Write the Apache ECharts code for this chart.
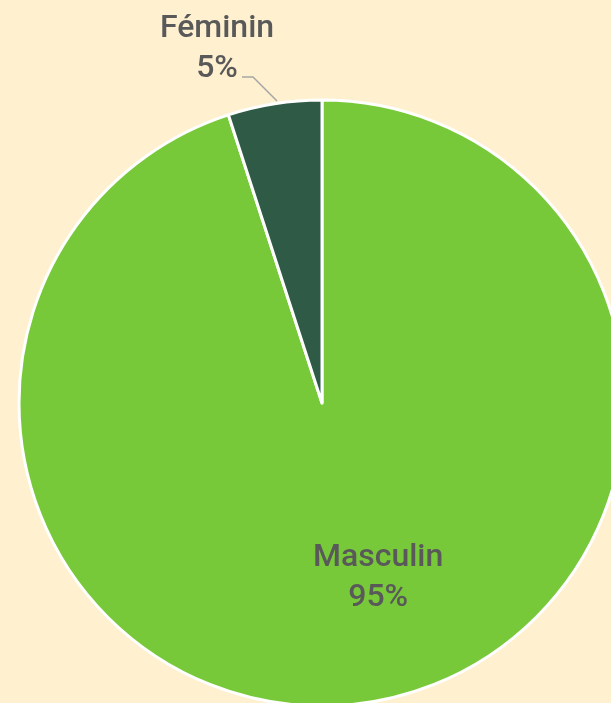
<!DOCTYPE html>
<html><head><meta charset="utf-8">
<script src="https://cdn.jsdelivr.net/npm/echarts@6/dist/echarts.min.js"></script>
<style>html,body{margin:0;padding:0;background:#fff1cf;}#c{width:611px;height:703px;}</style>
</head><body><div id="c"></div>
<script>
const categories = ['Masculin', 'Féminin'];
const values = [95, 5];
const colors = ['#78c93a', '#2f5a46'];

const chart = echarts.init(document.getElementById('c'));
chart.setOption({
  backgroundColor: '#fff1cf',
  animation: false,
  series: [{
    type: 'pie',
    center: [322, 403],
    radius: 303,
    startAngle: 90,
    clockwise: true,
    data: categories.map((c, i) => ({
      name: c, value: values[i],
      itemStyle: { color: colors[i] },
      label: i === 0 ? { position: 'inside' } : { position: 'outside' }
    })),
    itemStyle: { borderColor: '#ffffff', borderWidth: 3 },
    label: {
      formatter: '{a|{b}}\n{a|{d}%}',
      color: '#595959',
      fontFamily: 'Roboto',
      fontWeight: 500,
      fontSize: 32,
      rich: { a: { fontFamily: 'Roboto', fontWeight: 500, fontSize: 32, color: '#595959', width: 140, align: 'center', lineHeight: 40 } }
    },
    labelLine: { length: 22, length2: 10, lineStyle: { color: '#a6a6a6', width: 1.5 } },
    labelLayout: function (p) {
      if (p.dataIndex === 0) return { dx: 32, dy: 22 };
      return {
        x: 217, y: 49, align: 'center', verticalAlign: 'middle',
        labelLinePoints: [[277, 101], [253, 77], [242, 77]]
      };
    }
  }]
});
</script></body></html>
